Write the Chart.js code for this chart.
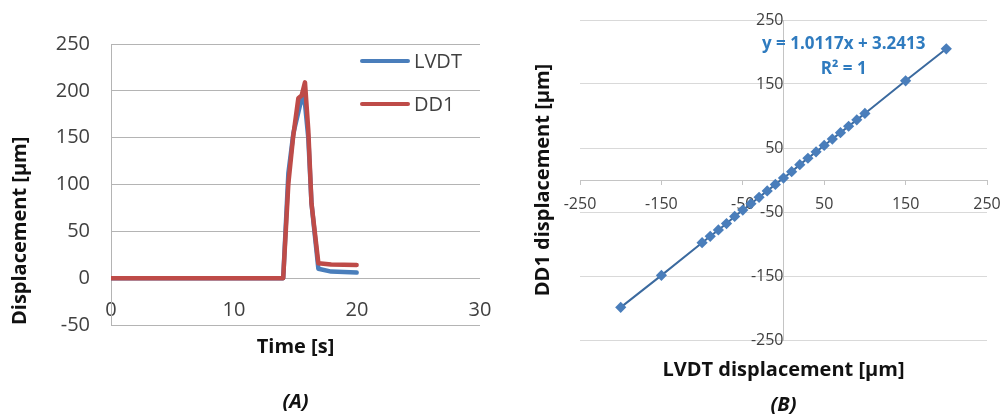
<!DOCTYPE html>
<html lang="en">
<head>
  <meta charset="UTF-8" />
  <title>LVDT vs DD1</title>
  <script src="https://cdn.jsdelivr.net/npm/chart.js@4.4.0/dist/chart.umd.min.js"></script>
  <style>
    body { margin: 0; background: #fff; width: 1003px; height: 415px; overflow: hidden; position: relative; }
    .panel { position: absolute; top: 0; height: 415px; }
    #panelA { left: 0; width: 500px; }
    #panelB { left: 500px; width: 503px; }
  </style>
</head>
<body>
  <div class="panel" id="panelA"><canvas id="graficoA" width="500" height="415"></canvas></div>
  <div class="panel" id="panelB"><canvas id="graficoB" width="503" height="415"></canvas></div>

  <script>
    /* ---------- (A) displacement vs time ---------- */
    var tiempoLVDT  = [0, 14.0, 14.42, 14.83, 15.37, 15.7, 16.04, 16.3, 16.86, 17.9, 19.97];
    var valoresLVDT = [0, 0, 112, 155, 185, 196, 150, 80, 10, 7, 6];
    var tiempoDD1   = [0, 14.0, 14.42, 14.8, 15.23, 15.5, 15.77, 16.04, 16.3, 16.86, 17.9, 19.97];
    var valoresDD1  = [0, 0, 101, 150, 192, 195, 209, 158, 80, 16, 14.5, 14];
    var ticksTiempo = [0, 10, 20, 30];
    var ticksDespl  = [-50, 0, 50, 100, 150, 200, 250];

    /* ---------- (B) DD1 vs LVDT calibration ---------- */
    var lvdtCal = [-200, -150, -100, -90, -80, -70, -60, -50, -40, -30, -20, -10, 0,
                   10, 20, 30, 40, 50, 60, 70, 80, 90, 100, 150, 200];
    var dd1Cal  = [-199, -149, -98, -88, -78, -68, -57, -47, -37, -27, -17, -7, 3,
                   13, 24, 34, 44, 54, 64, 74, 84, 94, 104, 155, 205];
    var ticksCal = [-250, -150, -50, 50, 150, 250];
    var ecuacion = ["y = 1.0117x + 3.2413", "R\u00b2 = 1"];

    var fuente = "'Open Sans', sans-serif";
    Chart.defaults.font.family = fuente;
    Chart.defaults.color = "#404040";

    function puntos(xs, ys) {
      return xs.map(function (x, i) { return { x: x, y: ys[i] }; });
    }
    function fijarTicks(lista) {
      return function (scale) {
        scale.ticks = lista.map(function (v) { return { value: v }; });
      };
    }
    /* axes crossing inside the plot: take no layout room */
    function sinEspacio(scale) {
      if (scale.isHorizontal()) { scale.height = 0; } else { scale.width = 0; }
      scale.paddingLeft = scale.paddingRight = 0;
      scale.paddingTop = scale.paddingBottom = 0;
    }

    /* legend drawn inside the plot, top right */
    var leyendaInterna = {
      id: "leyendaInterna",
      afterDraw: function (chart, args, opts) {
        var ctx = chart.ctx, area = chart.chartArea;
        chart.data.datasets.forEach(function (ds, i) {
          var x = area.right - opts.right;
          var y = area.top + opts.top + i * opts.gap;
          ctx.save();
          ctx.strokeStyle = ds.borderColor;
          ctx.lineWidth = 4;
          ctx.lineCap = "round";
          ctx.beginPath();
          ctx.moveTo(x, y);
          ctx.lineTo(x + 46, y);
          ctx.stroke();
          ctx.fillStyle = "#404040";
          ctx.font = "20px " + fuente;
          ctx.textBaseline = "middle";
          ctx.fillText(ds.label, x + 52, y + 1);
          ctx.restore();
        });
      }
    };

    /* trendline equation text */
    var textoEcuacion = {
      id: "textoEcuacion",
      afterDraw: function (chart, args, opts) {
        var ctx = chart.ctx;
        var sx = chart.scales.x, sy = chart.scales.y;
        ctx.save();
        ctx.fillStyle = opts.color;
        ctx.font = "bold 17px " + fuente;
        ctx.textAlign = "center";
        ctx.textBaseline = "middle";
        opts.lineas.forEach(function (t, i) {
          ctx.fillText(t, sx.getPixelForValue(opts.x), sy.getPixelForValue(opts.y[i]));
        });
        ctx.restore();
      }
    };

    var fuenteTitulo = { size: 20, weight: "bold" };
    var fuenteRotulo = { size: 20, weight: "bold", style: "italic", lineHeight: 1 };

    /* ---------- CHART A ---------- */
    new Chart(document.getElementById("graficoA"), {
      type: "line",
      data: {
        datasets: [
          { label: "LVDT", data: puntos(tiempoLVDT, valoresLVDT), borderColor: "#4a7ebb",
            borderWidth: 4.5, borderJoinStyle: "round", borderCapStyle: "round", pointRadius: 0, order: 1 },
          { label: "DD1", data: puntos(tiempoDD1, valoresDD1), borderColor: "#be4b48",
            borderWidth: 4.5, borderJoinStyle: "round", borderCapStyle: "round", pointRadius: 0, order: 0 }
        ]
      },
      options: {
        responsive: false,
        animation: false,
        layout: { padding: { top: 44, right: 20, left: 0, bottom: 3 } },
        plugins: {
          legend: { display: false },
          tooltip: { enabled: false },
          title: {
            display: true, position: "bottom", text: "(A)", fullSize: false,
            color: "#111", font: fuenteRotulo, padding: { top: 33, bottom: 0 }
          },
          leyendaInterna: { right: 118, top: 17, gap: 43 }
        },
        scales: {
          x: {
            type: "linear", min: 0, max: 30, position: { y: 0 },
            afterBuildTicks: fijarTicks(ticksTiempo),
            afterFit: sinEspacio,
            grid: { display: false, drawTicks: false },
            border: { display: false },
            ticks: { padding: 20, font: { size: 20 } }
          },
          xTitulo: {
            type: "linear", position: "bottom",
            ticks: { display: false },
            grid: { display: false, drawTicks: false },
            border: { display: false },
            title: { display: true, text: "Time [s]", color: "#111",
                     font: fuenteTitulo, padding: { top: 10, bottom: 0 } }
          },
          y: {
            min: -50, max: 250,
            afterBuildTicks: fijarTicks(ticksDespl),
            afterFit: function (s) { s.width = 111; },
            grid: { color: "#b4b4b4", drawTicks: false },
            border: { display: true, color: "#b4b4b4" },
            ticks: { padding: 21, font: { size: 20 } },
            title: { display: true, text: "Displacement [\u00b5m]", align: "start", color: "#111",
                     font: fuenteTitulo, padding: { top: 8, bottom: 0 } }
          }
        }
      },
      plugins: [leyendaInterna]
    });

    /* ---------- CHART B ---------- */
    new Chart(document.getElementById("graficoB"), {
      type: "scatter",
      data: {
        datasets: [{
          label: "DD1 vs LVDT",
          data: puntos(lvdtCal, dd1Cal),
          showLine: true,
          borderColor: "#3b6a9f",
          borderWidth: 2,
          pointStyle: "rectRot",
          pointRadius: 4.2,
          pointBackgroundColor: "#4a7ebb",
          pointBorderColor: "#4a7ebb"
        }]
      },
      options: {
        responsive: false,
        animation: false,
        layout: { padding: { top: 20, right: 16, left: 0, bottom: 0 } },
        plugins: {
          legend: { display: false },
          tooltip: { enabled: false },
          title: {
            display: true, position: "bottom", text: "(B)", fullSize: false,
            color: "#111", font: fuenteRotulo, padding: { top: 13, bottom: 0 }
          },
          textoEcuacion: { lineas: ecuacion, x: 74, y: [212, 173], color: "#2f7bbf" }
        },
        scales: {
          x: {
            type: "linear", min: -250, max: 250, position: { y: 0 },
            afterBuildTicks: fijarTicks(ticksCal),
            afterFit: sinEspacio,
            grid: { drawOnChartArea: false, drawTicks: true, tickLength: 4, color: "#c4c4c4" },
            border: { display: true, color: "#c4c4c4" },
            ticks: { padding: 11, font: { size: 16 } }
          },
          xTitulo: {
            type: "linear", position: "bottom",
            ticks: { display: false },
            grid: { display: false, drawTicks: false },
            border: { display: false },
            title: { display: true, text: "LVDT displacement [\u00b5m]", color: "#111",
                     font: fuenteTitulo, padding: { top: 18, bottom: 0 } }
          },
          y: {
            type: "linear", min: -250, max: 250, position: { x: 0 },
            afterBuildTicks: fijarTicks(ticksCal),
            afterFit: sinEspacio,
            grid: { color: "#d9d9d9", drawTicks: false },
            border: { display: true, color: "#c4c4c4" },
            ticks: { padding: 20, font: { size: 16 } }
          },
          yTitulo: {
            type: "linear", position: "left",
            ticks: { display: false },
            grid: { display: false, drawTicks: false },
            border: { display: false },
            title: { display: true, text: "DD1 displacement [\u00b5m]", color: "#111",
                     font: fuenteTitulo, padding: { top: 31, bottom: 25 } }
          }
        }
      },
      plugins: [textoEcuacion]
    });
  </script>
</body>
</html>
